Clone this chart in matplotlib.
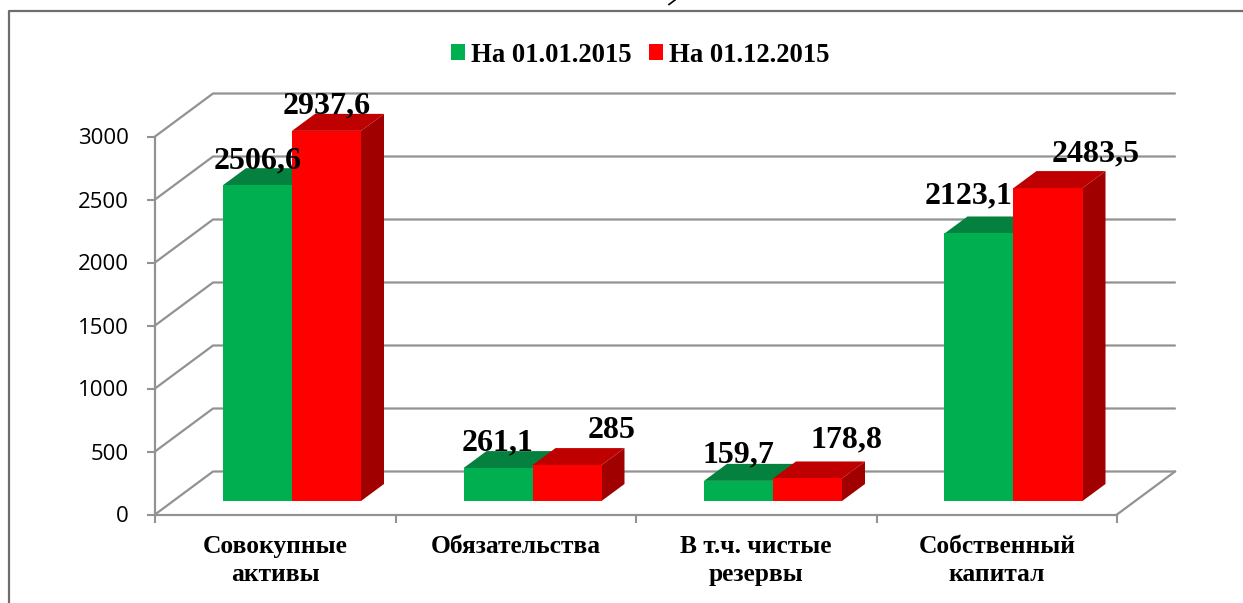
import matplotlib
matplotlib.use('Agg')
import matplotlib.pyplot as plt
from matplotlib.lines import Line2D
from matplotlib.patches import Patch, Polygon

#----------------DATA---------------------------------------------------------
categories = ['Совокупные\nактивы', 'Обязательства', 'В т.ч. чистые\nрезервы', 'Собственный\nкапитал']
series_names = ['На 01.01.2015', 'На 01.12.2015']
val_jan = [2506.6, 261.1, 159.7, 2123.1]
val_dec = [2937.6, 285, 178.8, 2483.5]
labels_jan = ['2506,6', '261,1', '159,7', '2123,1']
labels_dec = ['2937,6', '285', '178,8', '2483,5']
y_ticks = [0, 500, 1000, 1500, 2000, 2500, 3000]

#----------------STYLE--------------------------------------------------------
W, H = 1243, 603
GRAY = '#929292'
front = ['#00b050', '#ff0000']
top = ['#04803f', '#bf0000']
side = ['#03703a', '#a00000']
serif = 'Liberation Serif'

# px per unit of the data axes
px_x = 240.5
px_y = 378 / 3000

# fake 3d depth, in data units
wall_dx, wall_dy = 58 / px_x, 43 / px_y
bar_dx, bar_dy = 23 / px_x, 17 / px_y
plane_dx, plane_dy = 18 / px_x, 13.5 / px_y
bar_w = 69 / px_x
bar_gap = 50 / px_x

# label shift from the front top centre of each bar, in px
off_jan = [(0, 24), (0, 25), (0, 26), (-10, 38)]
off_dec = [(0, 25), (45, 35), (39, 39), (48, 34)]

#----------------PLOT---------------------------------------------------------
fig = plt.figure(figsize=(W / 100, H / 100), dpi=100)
ax = fig.add_axes([155 / W, (H - 514.5) / H, 962 / W, 378 / H])
ax.set_xlim(0, 4)
ax.set_ylim(0, 3000)

# walls
for v in y_ticks:
    ax.plot([0, wall_dx, 4 + wall_dx], [v, v + wall_dy, v + wall_dy], color=GRAY, lw=1.6, clip_on=False, zorder=1, solid_capstyle='round')
ax.plot([4, 4 + wall_dx], [0, wall_dy], color=GRAY, lw=1.6, clip_on=False, zorder=1)


def draw_bar(x0, v, k):
    x1 = x0 + bar_w
    y0 = plane_dy
    y1 = plane_dy + v
    ax.add_patch(Polygon([(x1, y0), (x1 + bar_dx, y0 + bar_dy), (x1 + bar_dx, y1 + bar_dy), (x1, y1)], fc=side[k], ec='none', clip_on=False, zorder=3))
    ax.add_patch(Polygon([(x0, y1), (x1, y1), (x1 + bar_dx, y1 + bar_dy), (x0 + bar_dx, y1 + bar_dy)], fc=top[k], ec='none', clip_on=False, zorder=3))
    ax.add_patch(Polygon([(x0, y0), (x1, y0), (x1, y1), (x0, y1)], fc=front[k], ec='none', clip_on=False, zorder=3))


for i in range(len(categories)):
    x0 = i + plane_dx + bar_gap
    draw_bar(x0, val_jan[i], 0)
    draw_bar(x0 + bar_w, val_dec[i], 1)

for i in range(len(categories)):
    x0 = i + plane_dx + bar_gap
    ax.annotate(labels_jan[i], (x0 + bar_w / 2, plane_dy + val_jan[i]), xytext=off_jan[i], textcoords='offset pixels',
                ha='center', va='center', family=serif, weight='bold', fontsize=23, color='black', zorder=5, annotation_clip=False)
    ax.annotate(labels_dec[i], (x0 + 1.5 * bar_w, plane_dy + val_dec[i]), xytext=off_dec[i], textcoords='offset pixels',
                ha='center', va='center', family=serif, weight='bold', fontsize=23, color='black', zorder=5, annotation_clip=False)

# axes
for s in ['top', 'right']:
    ax.spines[s].set_visible(False)
for s in ['left', 'bottom']:
    ax.spines[s].set_color(GRAY)
    ax.spines[s].set_linewidth(1.6)
ax.patch.set_alpha(0)
ax.set_yticks(y_ticks)
ax.set_xticks(range(5))
ax.set_xticklabels([])
ax.set_xticks([i + 0.5 for i in range(4)], categories, minor=True, family=serif, weight='bold', fontsize=18.4, linespacing=1.27)
ax.tick_params(axis='y', length=5.8, width=1.5, color=GRAY, pad=13, labelsize=16, labelcolor='black')
ax.tick_params(axis='x', which='major', length=5.8, width=1.5, color=GRAY)
ax.tick_params(axis='x', which='minor', length=0, pad=15)
for t in ax.get_yticklabels():
    t.set_family('Open Sans')

# legend
handles = [Patch(fc=front[0], label=series_names[0]), Patch(fc=front[1], label=series_names[1])]
fig.legend(handles=handles, loc='center', bbox_to_anchor=(640 / W, 1 - 55 / H), ncols=2, frameon=False,
           prop={'family': serif, 'weight': 'bold', 'size': 19.2}, handlelength=0.52, handleheight=0.52,
           handletextpad=0.22, columnspacing=0.67, borderpad=0)

# outer frame of the pasted picture, and the stray tail of text above it
fig.add_artist(Line2D([9 / W, 9 / W, 1], [0, 1 - 11 / H, 1 - 11 / H], color='#6e6e6e', lw=1.6))
fig.add_artist(Line2D([675 / W, 669 / W], [1, 1 - 4.5 / H], color='black', lw=1.2))

fig.savefig('out.png', dpi=100)
